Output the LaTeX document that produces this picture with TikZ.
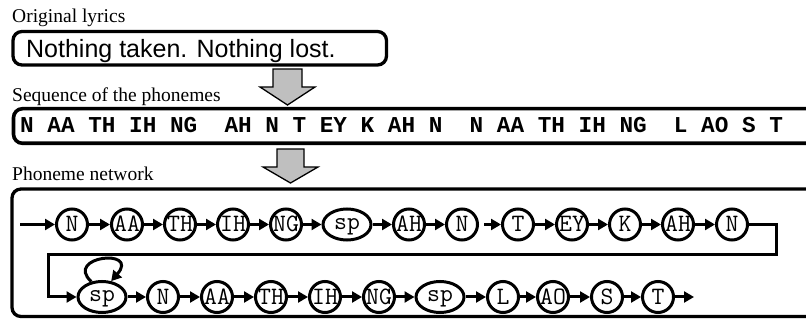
\documentclass[tikz,border=0pt]{standalone}
\usepackage{fontspec}
\setmainfont{Liberation Serif}
\newfontfamily\lyricfont{Liberation Sans}
\newfontfamily\phonfont{Liberation Mono}
\usetikzlibrary{arrows.meta,shapes.geometric}

\begin{document}
\begin{tikzpicture}[x=1pt,y=-1pt,
  caption/.style={anchor=base west,inner sep=0pt,font=\fontsize{19.5}{22}\selectfont},
  panel/.style={draw,line width=3.3pt,rounded corners=9pt},
  blockarrow/.style={draw,line width=1.3pt,fill=black!25,line join=miter},
  ph/.style={circle,draw,line width=3pt,minimum size=31pt,inner sep=0pt,
    text height=15pt,text depth=0pt,
    font=\ttfamily\fontsize{25}{25}\selectfont},
  phsp/.style={ellipse,draw,line width=3pt,minimum width=48pt,minimum height=31pt,
    inner sep=0pt,text height=10pt,text depth=0pt,
    font=\ttfamily\fontsize{25}{25}\selectfont},
  link/.style={line width=3pt,-{Triangle[length=10pt,width=11pt]}}]

\clip (0,0) rectangle (806,320);

% --- original lyrics ---
\node[caption] (lyricscap) at (12,23) {Original lyrics};
\draw[panel] (13,31.5) rectangle (386.5,65);
\node[anchor=base west,inner sep=0pt,font=\lyricfont\fontsize{25}{28}\selectfont]
  (lyrics) at (26,58) {Nothing taken. Nothing lost.};

\draw[blockarrow] (273,69) -- (302,69) -- (302,87) -- (315,87) -- (287.5,105)
  -- (260,87) -- (273,87) -- cycle;

% --- phoneme sequence ---
\node[caption] (seqcap) at (12,102) {Sequence of the phonemes};
\draw[panel,line width=3.6pt] (13.5,108.7) rectangle (840,143.3);
\node[anchor=base west,inner sep=0pt,font=\phonfont\bfseries\fontsize{22.7}{24}\selectfont]
  (seq) at (20,133) {N~AA~TH~IH~NG~~AH~N~T~EY~K~AH~N~~N~AA~TH~IH~NG~~L~AO~S~T};

\draw[blockarrow] (277,149) -- (304,149) -- (304,167) -- (318,167) -- (290.5,183)
  -- (263,167) -- (277,167) -- cycle;

% --- phoneme network ---
\node[caption] (netcap) at (12,181) {Phoneme network};
\draw[panel] (12,189) rectangle (840,316.5);

% first row
\node[ph]   (a1)  at (72,224.5)  {N};
\node[ph]   (a2)  at (127,224.5) {AA};
\node[ph]   (a3)  at (180,224.5) {TH};
\node[ph]   (a4)  at (233,224.5) {IH};
\node[ph]   (a5)  at (286,224.5) {NG};
\node[phsp] (a6)  at (347,224.5) {sp};
\node[ph]   (a7)  at (409,224.5) {AH};
\node[ph]   (a8)  at (462,224.5) {N};
\node[ph]   (a9)  at (518,224.5) {T};
\node[ph]   (a10) at (572,224.5) {EY};
\node[ph]   (a11) at (625,224.5) {K};
\node[ph]   (a12) at (678,224.5) {AH};
\node[ph]   (a13) at (732,224.5) {N};

% second row
\node[phsp] (b1)  at (102,297) {sp};
\node[ph]   (b2)  at (163,297) {N};
\node[ph]   (b3)  at (217,297) {AA};
\node[ph]   (b4)  at (271,297) {TH};
\node[ph]   (b5)  at (325,297) {IH};
\node[ph]   (b6)  at (379,297) {NG};
\node[phsp] (b7)  at (440,297) {sp};
\node[ph]   (b8)  at (503,297) {L};
\node[ph]   (b9)  at (553,297) {AO};
\node[ph]   (b10) at (607,297) {S};
\node[ph]   (b11) at (658,297) {T};

\coordinate (start) at (20,224.5);
\coordinate (turn) at (48,255);
\coordinate (finish) at (694,297);

\draw[link] (start) -- (a1);
\foreach \i/\j in {1/2,2/3,3/4,4/5,5/6,6/7,7/8,9/10,10/11,11/12,12/13}
  \draw[link] (a\i) -- (a\j);
\draw[link] ([xshift=5pt]a8.east) -- (a9);

\draw[link,line join=miter] (a13.east) -- ++(27,0) |- (turn) |- (b1.west);

\foreach \i/\j in {1/2,2/3,3/4,4/5,5/6,6/7,7/8,8/9,9/10,10/11}
  \draw[link] (b\i) -- (b\j);
\draw[link] (b11) -- (finish);

% self loop on the pause
\draw[link] (b1.125) .. controls (64,256) and (140,248) .. (b1.60);

\end{tikzpicture}
\end{document}
